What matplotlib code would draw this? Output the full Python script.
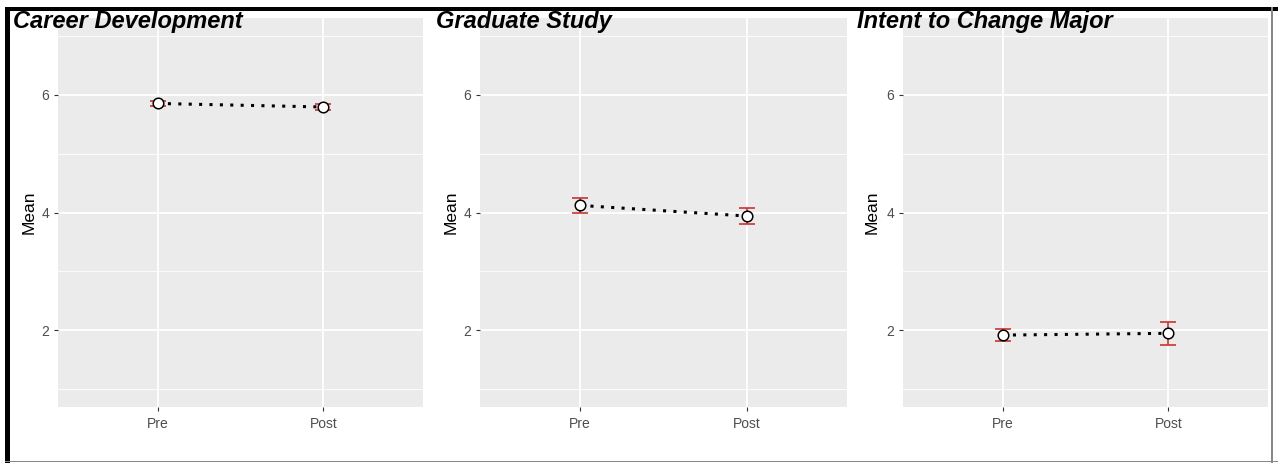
import matplotlib
matplotlib.use("Agg")
import matplotlib.pyplot as plt
from matplotlib.patches import Rectangle

plt.rcParams['font.family'] = ['Liberation Sans', 'DejaVu Sans']

# data
titles = ["Career Development", "Graduate Study", "Intent to Change Major"]
groups = ["Pre", "Post"]
means = [[5.85, 5.79], [4.12, 3.94], [1.92, 1.95]]
errs = [[0.05, 0.05], [0.13, 0.14], [0.10, 0.19]]

W, H = 1278, 463
fig = plt.figure(figsize=(W / 100, H / 100), dpi=100)

# panel pixel boxes (left, right), top/bottom shared
panels = [(58, 423), (480, 847), (903, 1268)]
top, bot = 18, 407
title_x = [13, 436, 857]
ylab_x = [29, 451, 872]

for i, (l, r) in enumerate(panels):
    ax = fig.add_axes([l / W, (H - bot) / H, (r - l) / W, (bot - top) / H])
    ax.set_facecolor('#EBEBEB')
    for s in ax.spines.values():
        s.set_visible(False)
    x = range(len(groups))
    ax.plot(x, means[i], color='black', lw=2.2, ls=(0, (1, 2.4)), zorder=3)
    ax.errorbar(x, means[i], yerr=errs[i], fmt='none', ecolor='#CC3333',
                elinewidth=1.2, capsize=6, capthick=1.2, zorder=4)
    ax.scatter(x, means[i], s=58, facecolor='white', edgecolor='black',
               linewidth=1.1, zorder=5)
    ax.set_xlim(-0.6, 1.6)
    ax.set_ylim(0.7, 7.3)
    ax.set_xticks(list(x))
    ax.set_xticklabels(groups)
    ax.set_yticks([2, 4, 6])
    ax.set_yticks([1, 3, 5, 7], minor=True)
    ax.grid(True, which='major', color='white', lw=1.3)
    ax.grid(True, which='minor', axis='y', color='white', lw=0.6)
    ax.set_axisbelow(True)
    ax.tick_params(axis='both', which='major', length=3, width=0.8,
                   color='#333333', labelcolor='#4D4D4D', labelsize=10)
    ax.tick_params(axis='x', pad=4)
    ax.tick_params(which='minor', length=0)
    fig.text(ylab_x[i] / W, (H - (top + bot) / 2) / H, "Mean", rotation=90,
             ha='center', va='center', fontsize=12.5, color='black')
    fig.text(title_x[i] / W, 1 - 28 / H, titles[i], ha='left', va='baseline',
             fontsize=17, fontweight='bold', fontstyle='italic', color='black')

# frame around the picture
fig.patches.append(Rectangle((5 / W, 0), 5 / W, 1 - 7 / H, transform=fig.transFigure,
                             facecolor='black', edgecolor='none'))
fig.patches.append(Rectangle((5 / W, 1 - 11 / H), 1 - 5 / W, 4 / H,
                             transform=fig.transFigure, facecolor='black', edgecolor='none'))
fig.patches.append(Rectangle((1271 / W, 0), 1.5 / W, 1 - 7 / H, transform=fig.transFigure,
                             facecolor='#888888', edgecolor='none'))
fig.patches.append(Rectangle((5 / W, 1 / H), 1 - 5 / W, 1.5 / H, transform=fig.transFigure,
                             facecolor='#888888', edgecolor='none'))

fig.savefig("out.png", dpi=100)
